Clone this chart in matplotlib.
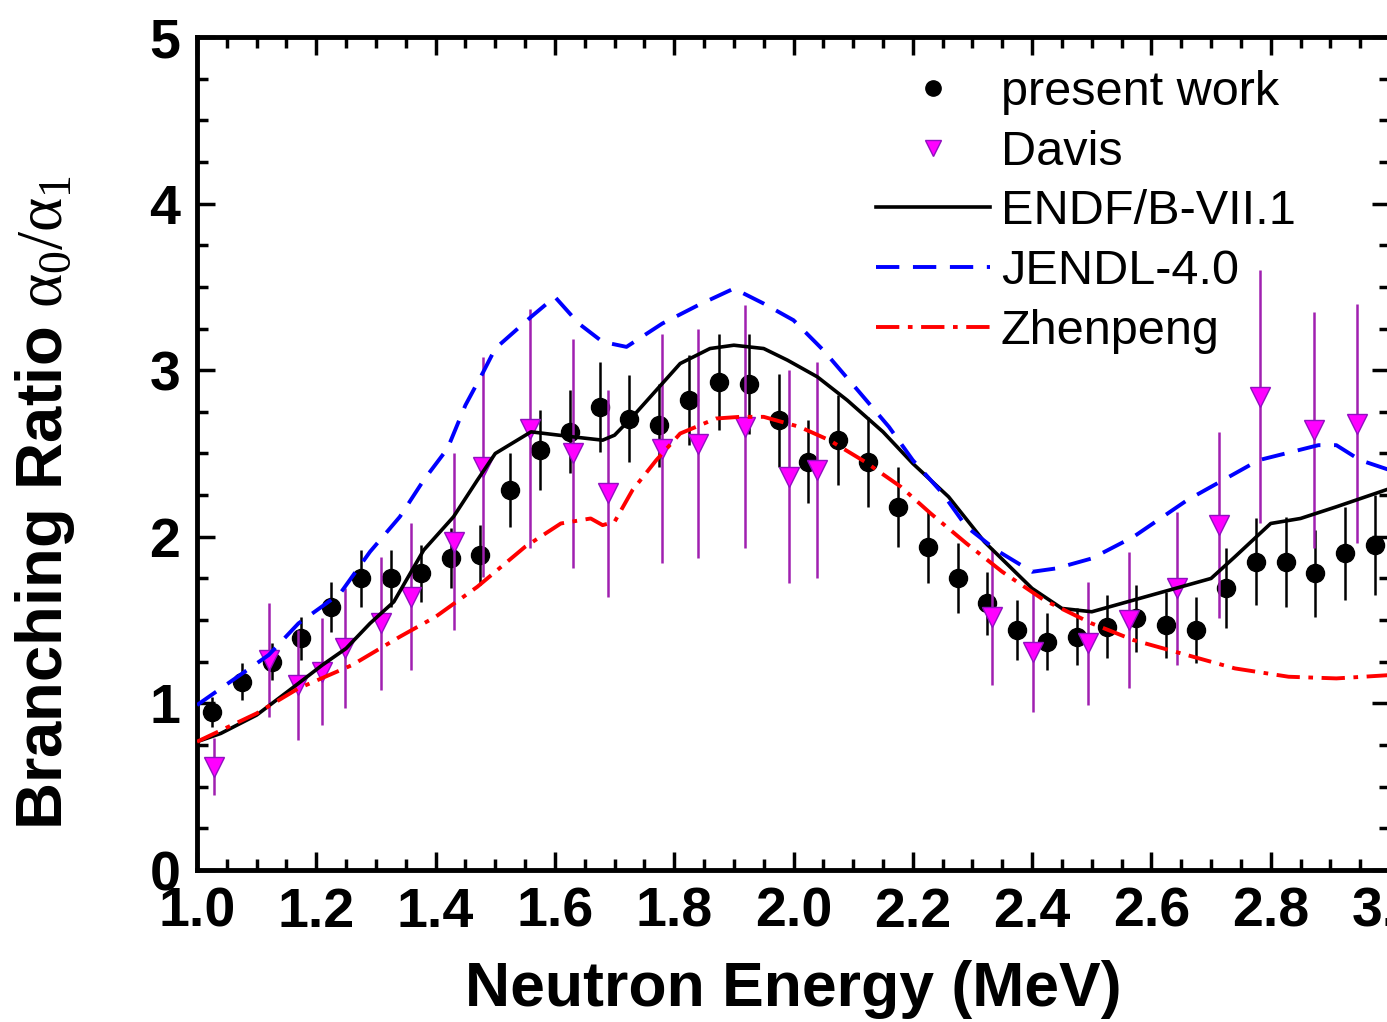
import numpy as np
import matplotlib.pyplot as plt
from matplotlib.lines import Line2D
from matplotlib.ticker import MultipleLocator, FormatStrFormatter

plt.rcParams['font.family'] = ['Liberation Sans', 'DejaVu Sans']
plt.rcParams['mathtext.fontset'] = 'custom'
plt.rcParams['mathtext.rm'] = 'Liberation Serif'
plt.rcParams['mathtext.it'] = 'Liberation Serif'

# present work
pw_E = [1.025, 1.075, 1.125, 1.175, 1.225, 1.275, 1.325, 1.375, 1.425, 1.475,
        1.525, 1.575, 1.625, 1.675, 1.725, 1.775, 1.825, 1.875, 1.925, 1.975,
        2.025, 2.075, 2.125, 2.175, 2.225, 2.275, 2.325, 2.375, 2.425, 2.475,
        2.525, 2.575, 2.625, 2.675, 2.725, 2.775, 2.825, 2.875, 2.925, 2.975]
pw_R = [0.95, 1.13, 1.25, 1.39, 1.58, 1.75, 1.75, 1.78, 1.87, 1.89,
        2.28, 2.52, 2.63, 2.78, 2.71, 2.67, 2.82, 2.93, 2.92, 2.70,
        2.45, 2.58, 2.45, 2.18, 1.94, 1.75, 1.60, 1.44, 1.37, 1.40,
        1.46, 1.51, 1.47, 1.44, 1.69, 1.85, 1.85, 1.78, 1.90, 1.95]
pw_err = [0.09, 0.11, 0.11, 0.13, 0.15, 0.17, 0.17, 0.17, 0.18, 0.18,
          0.22, 0.24, 0.25, 0.27, 0.26, 0.25, 0.27, 0.29, 0.30, 0.28,
          0.25, 0.27, 0.27, 0.24, 0.22, 0.21, 0.19, 0.18, 0.17, 0.17,
          0.19, 0.20, 0.20, 0.20, 0.24, 0.26, 0.27, 0.26, 0.28, 0.30]

# Davis
dv_E = [1.028, 1.120, 1.169, 1.209, 1.248, 1.308, 1.358, 1.431, 1.479, 1.558,
        1.630, 1.689, 1.780, 1.840, 1.919, 1.992, 2.040, 2.332, 2.401, 2.493,
        2.562, 2.643, 2.713, 2.782, 2.873, 2.944]
dv_R = [0.62, 1.26, 1.11, 1.19, 1.33, 1.48, 1.64, 1.97, 2.42, 2.65,
        2.50, 2.26, 2.53, 2.56, 2.66, 2.36, 2.40, 1.52, 1.31, 1.36,
        1.50, 1.69, 2.07, 2.84, 2.64, 2.68]
dv_err = [0.17, 0.34, 0.33, 0.32, 0.36, 0.40, 0.44, 0.53, 0.66, 0.72,
          0.69, 0.62, 0.69, 0.69, 0.73, 0.64, 0.65, 0.41, 0.36, 0.37,
          0.41, 0.46, 0.56, 0.76, 0.71, 0.72]

# ENDF/B-VII.1
endf_E = [1.00, 1.04, 1.10, 1.17, 1.21, 1.25, 1.29, 1.33, 1.38, 1.43,
          1.47, 1.50, 1.56, 1.63, 1.68, 1.70, 1.73, 1.78, 1.81, 1.86,
          1.90, 1.95, 1.99, 2.04, 2.09, 2.15, 2.20, 2.26, 2.32, 2.40,
          2.45, 2.50, 2.57, 2.63, 2.70, 2.74, 2.80, 2.85, 2.91, 3.00]
endf_R = [0.77, 0.82, 0.93, 1.12, 1.23, 1.33, 1.48, 1.61, 1.92, 2.12,
          2.34, 2.50, 2.63, 2.60, 2.58, 2.61, 2.72, 2.92, 3.04, 3.13,
          3.15, 3.13, 3.06, 2.96, 2.82, 2.63, 2.44, 2.24, 1.97, 1.69,
          1.57, 1.55, 1.62, 1.68, 1.75, 1.88, 2.08, 2.11, 2.18, 2.29]

# JENDL-4.0
jendl_E = [1.00, 1.12, 1.17, 1.24, 1.29, 1.34, 1.38, 1.42, 1.45, 1.48,
           1.50, 1.56, 1.60, 1.64, 1.68, 1.72, 1.78, 1.84, 1.90, 1.95,
           2.00, 2.05, 2.11, 2.16, 2.20, 2.25, 2.29, 2.34, 2.40, 2.44,
           2.50, 2.57, 2.66, 2.72, 2.78, 2.88, 2.91, 2.95, 3.00]
jendl_R = [0.99, 1.29, 1.48, 1.66, 1.91, 2.12, 2.34, 2.53, 2.79, 2.99,
           3.13, 3.32, 3.44, 3.28, 3.17, 3.14, 3.28, 3.39, 3.49, 3.40,
           3.30, 3.12, 2.87, 2.66, 2.46, 2.26, 2.06, 1.92, 1.79, 1.81,
           1.87, 2.00, 2.22, 2.34, 2.46, 2.55, 2.55, 2.46, 2.40]

# Zhenpeng
zp_E = [1.00, 1.10, 1.17, 1.26, 1.34, 1.40, 1.47, 1.55, 1.61, 1.66,
        1.68, 1.70, 1.73, 1.77, 1.81, 1.87, 1.91, 1.95, 2.01, 2.06,
        2.12, 2.18, 2.23, 2.29, 2.35, 2.42, 2.50, 2.57, 2.66, 2.74,
        2.83, 2.91, 3.00]
zp_R = [0.77, 0.94, 1.09, 1.23, 1.40, 1.52, 1.70, 1.94, 2.08, 2.11,
        2.07, 2.09, 2.28, 2.46, 2.62, 2.71, 2.72, 2.72, 2.66, 2.58,
        2.45, 2.30, 2.14, 1.96, 1.79, 1.62, 1.48, 1.38, 1.29, 1.21,
        1.16, 1.15, 1.17]

fig = plt.figure(figsize=(13.87, 10.22), dpi=100)
ax = fig.add_axes([197 / 1387, 152 / 1022, 1193 / 1387, 833 / 1022])

purple = '#A020B0'

# experimental data
ax.errorbar(pw_E, pw_R, yerr=pw_err, fmt='o', color='black', ms=13,
            elinewidth=1.8, capsize=0, zorder=3)
ax.errorbar(dv_E, dv_R, yerr=dv_err, fmt='v', mfc='#FF00FF', mec='#9010C0',
            mew=1, ms=15, ecolor=purple, elinewidth=1.8, capsize=0, zorder=4)

# evaluations
ax.plot(endf_E, endf_R, color='black', lw=2.6, zorder=5)
ax.plot(jendl_E, jendl_R, color='#0000FF', lw=2.8, ls=(0, (6, 3.5)), zorder=5)
ax.plot(zp_E, zp_R, color='#FF0000', lw=2.8, ls=(0, (6, 2.2, 1.2, 2.2)), zorder=5)

ax.set_xlim(1.0, 3.0)
ax.set_ylim(0, 5)
ax.xaxis.set_major_locator(MultipleLocator(0.2))
ax.xaxis.set_minor_locator(MultipleLocator(0.05))
ax.xaxis.set_major_formatter(FormatStrFormatter('%.1f'))
ax.yaxis.set_major_locator(MultipleLocator(1))
ax.yaxis.set_minor_locator(MultipleLocator(0.25))

ax.tick_params(which='both', direction='in', top=True, right=True, width=2.5)
ax.tick_params(which='major', length=13, pad=12, labelsize=40)
ax.tick_params(which='minor', length=8)
for lab in ax.get_xticklabels() + ax.get_yticklabels():
    lab.set_fontweight('bold')
for sp in ax.spines.values():
    sp.set_linewidth(3.5)

ax.set_xlabel('Neutron Energy (MeV)', fontsize=45, fontweight='bold', labelpad=15)
fig.text(45 / 1387, 1 - 503 / 1022, r'Branching Ratio $\alpha_0/\alpha_1$',
         rotation=90, ha='center', va='center', fontsize=47, fontweight='bold')

handles = [
    Line2D([], [], marker='o', color='black', ls='none', ms=11),
    Line2D([], [], marker='v', mfc='#FF00FF', mec='#9010C0', ls='none', ms=11),
    Line2D([], [], color='black', lw=2.6),
    Line2D([], [], color='#0000FF', lw=2.8, ls=(0, (6, 3.5))),
    Line2D([], [], color='#FF0000', lw=2.8, ls=(0, (6, 2.2, 1.2, 2.2))),
]
labels = ['present work', 'Davis', 'ENDF/B-VII.1', 'JENDL-4.0', 'Zhenpeng']
ax.legend(handles, labels, loc='upper left', bbox_to_anchor=(0.569, 0.96),
          frameon=False, fontsize=35, handlelength=2.35, handletextpad=0.22,
          labelspacing=0.3, borderpad=0, borderaxespad=0)

fig.savefig('out.png', dpi=100)
